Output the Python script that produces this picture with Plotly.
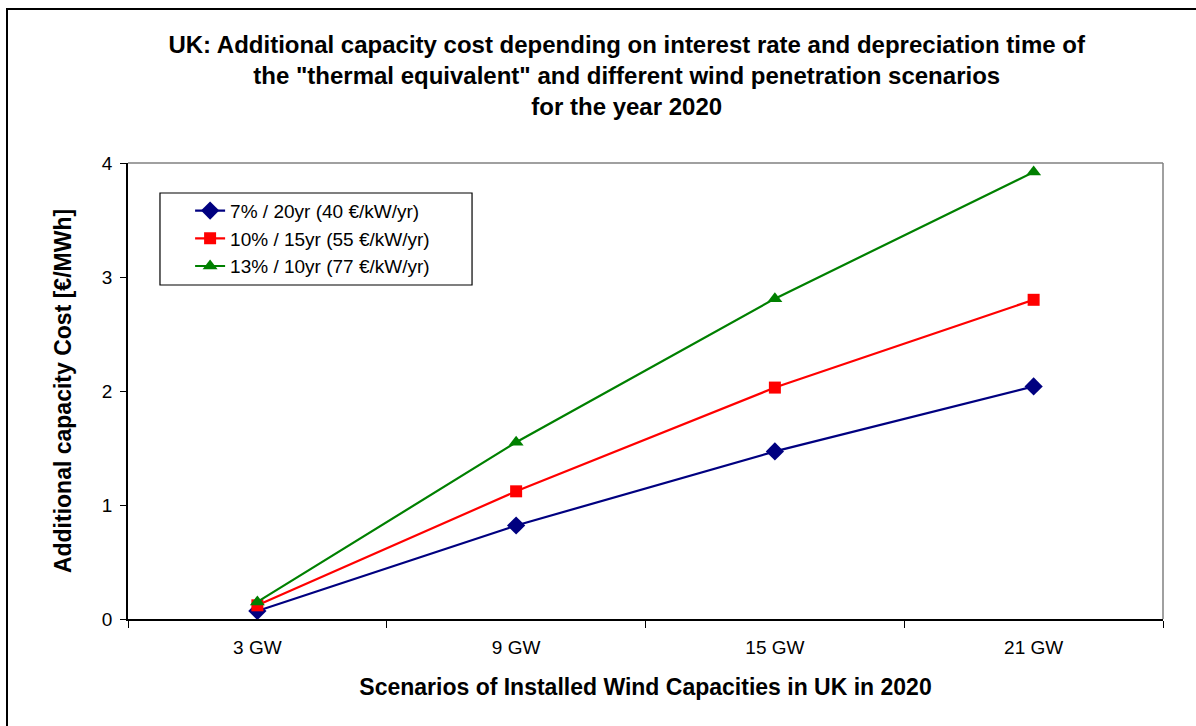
import plotly.graph_objects as go

scenarios = ["3 GW", "9 GW", "15 GW", "21 GW"]
cost_7pct_20yr = [0.07, 0.82, 1.47, 2.04]
cost_10pct_15yr = [0.12, 1.12, 2.03, 2.80]
cost_13pct_10yr = [0.15, 1.55, 2.81, 3.92]
series_names = [
    "7% / 20yr (40 €/kW/yr)",
    "10% / 15yr (55 €/kW/yr)",
    "13% / 10yr (77 €/kW/yr)",
]
y_ticks = [0, 1, 2, 3, 4]

FONT = "Liberation Sans, Arial, sans-serif"

fig = go.Figure()
styles = [
    (cost_7pct_20yr, "#000080", "diamond", 14),
    (cost_10pct_15yr, "#FF0000", "square", 12),
    (cost_13pct_10yr, "#008000", "triangle-up", 13),
]
for name, (vals, color, symbol, size) in zip(series_names, styles):
    fig.add_trace(go.Scatter(
        x=scenarios, y=vals, name=name, mode="lines+markers",
        line=dict(color=color, width=2.2),
        marker=dict(symbol=symbol, size=size, color=color),
    ))

fig.update_layout(
    width=1196, height=726,
    margin=dict(l=128, r=33, t=163, b=107),
    paper_bgcolor="white", plot_bgcolor="white",
    font=dict(family=FONT, color="black", size=19),
    title=dict(
        text="UK: Additional capacity cost depending on interest rate and depreciation time of<br>"
             "the \"thermal equivalent\" and different wind penetration scenarios<br>"
             "for the year 2020",
        x=0.524, xanchor="center", y=0.927, yanchor="top",
        font=dict(size=24, family=FONT, color="black", weight="bold"),
    ),
    showlegend=True,
    legend=dict(
        x=0.06, y=0.937, xanchor="left", yanchor="top",
        bgcolor="rgba(0,0,0,0)", borderwidth=0,
        font=dict(size=19, family=FONT), tracegroupgap=0,
        itemwidth=30,
    ),
    xaxis=dict(
        type="category", range=[-0.5, 3.5],
        showline=True, linecolor="black", linewidth=1.5,
        ticks="outside", ticklen=7, tickcolor="black", tickson="boundaries",
        ticklabelstandoff=10,
        showgrid=False, zeroline=False,
        tickfont=dict(size=19, family=FONT),
        title=dict(text="Scenarios of Installed Wind Capacities in UK in 2020",
                   font=dict(size=23, family=FONT, weight="bold"), standoff=22),
    ),
    yaxis=dict(
        range=[0, 4], tickvals=y_ticks,
        showline=True, linecolor="black", linewidth=1.5,
        ticks="outside", ticklen=6, tickcolor="black",
        ticklabelstandoff=4,
        showgrid=False, zeroline=False,
        tickfont=dict(size=19, family=FONT),
        title=dict(text="Additional capacity Cost [€/MWh]",
                   font=dict(size=23, family=FONT, weight="bold"), standoff=24),
    ),
)

# Plot-area top/right border in grey
fig.add_shape(type="line", xref="paper", yref="paper", x0=0, x1=1, y0=1, y1=1,
              line=dict(color="#808080", width=1.5))
fig.add_shape(type="line", xref="paper", yref="paper", x0=1, x1=1, y0=0, y1=1,
              line=dict(color="#808080", width=1.5))
# Legend frame
fig.add_shape(type="rect", xref="paper", yref="paper",
              x0=0.0309, x1=0.3324, y0=0.7325, y1=0.9342,
              fillcolor="white", line=dict(color="black", width=1.2))
# Outer chart frame (left and top edges visible)
fig.add_shape(type="rect", xref="paper", yref="paper",
              x0=-121/1035, x1=1 + 45/1035, y0=-115/456, y1=1 + 154/456,
              line=dict(color="black", width=2))

fig.write_html("out.html")
